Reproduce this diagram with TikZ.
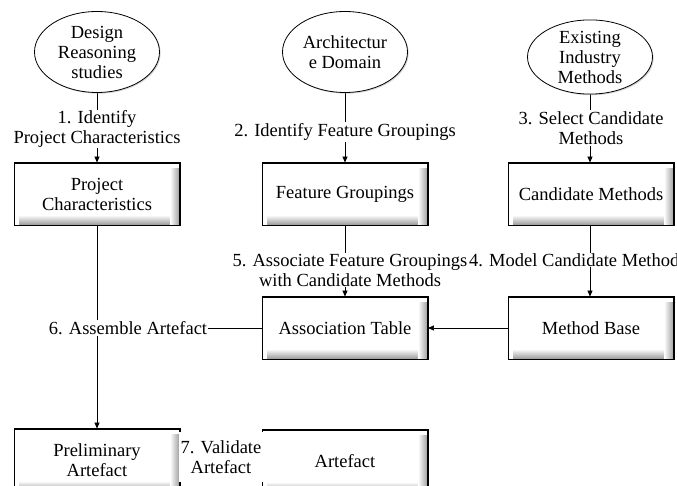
\documentclass[tikz,border=0pt]{standalone}
\usepackage{fontspec}
\setmainfont{Liberation Serif}
\usetikzlibrary{arrows.meta,shapes.geometric,shadows,backgrounds}

% soft inner shadow along the right and bottom edges of a box, then its border again
\newcommand\insetshade[1]{%
  \foreach \i in {1,...,9}{%
    \pgfmathsetmacro\shadeop{0.36*(10-\i)/9}
    \draw[draw=black, opacity=\shadeop, line width=1pt]
      ([xshift=-\i pt+0.1pt, yshift=-5pt]#1.north east) -- ([xshift=-\i pt+0.1pt]#1.south east);
    \draw[draw=black, opacity=\shadeop, line width=1pt]
      ([xshift=5pt, yshift=\i pt-0.1pt]#1.south west) -- ([xshift=-10pt, yshift=\i pt-0.1pt]#1.south east);
  }%
  \draw[line width=0.9pt] (#1.north west) rectangle (#1.south east);
}

\begin{document}
\begin{tikzpicture}[x=1pt,y=-1pt,
  every node/.style={font=\fontsize{18.5}{20}\selectfont, align=center},
  source/.style={ellipse, draw, line width=0.8pt, fill=white,
    minimum width=125pt, minimum height=81pt, inner sep=0pt,
    drop shadow={shadow xshift=1.2pt, shadow yshift=-1.2pt, fill=gray!70, opacity=0.45}},
  stagebox/.style={rectangle, draw, line width=0.9pt, fill=white,
    minimum width=165pt, minimum height=62pt, inner sep=0pt},
  steplabel/.style={fill=white, inner sep=1pt},
  arr/.style={-{Triangle[length=6pt,width=5pt]}, line width=0.7pt},
  link/.style={line width=0.7pt}]

\useasboundingbox (0,0) rectangle (677,486);
\clip (0,0) rectangle (677,486);

% sources
\node[source] (E1) at (97,52) {Design\\Reasoning\\studies};
\node[source] (E2) at (345,52) {Architectur\\e Domain};
\node[source, minimum height=72pt] (E3) at (590,57) {Existing\\Industry\\Methods};

% intermediate and final products
\node[stagebox] (B1) at (97,194) {Project\\Characteristics};
\node[stagebox] (B2) at (345,194) {Feature Groupings};
\node[stagebox] (B3) at (591,194) {Candidate Methods};
\node[stagebox] (B4) at (345,328) {Association Table};
\node[stagebox] (B5) at (591,328) {Method Base};
\node[stagebox] (B6) at (97,460) {Preliminary\\Artefact};
\node[stagebox] (B7) at (345,461) {Artefact};

\foreach \b in {B1,B2,B3,B4,B5,B6,B7}{\insetshade{\b}}

% connectors, kept under the step labels
\begin{pgfonlayer}{background}
\draw[arr] (E1.south) -- (B1.north);
\draw[arr] (E2.south) -- (B2.north);
\draw[arr] (E3.south) -- (E3.south |- B3.north);
\draw[arr] (B2.south) -- (B4.north);
\draw[arr] (B3.south -| E3.south) -- (E3.south |- B5.north);
\draw[arr] (B5.west) -- (B4.east);
\draw[arr] (B1.south) -- (B6.north);
\draw[link] (B6.east) -- (B7.west);
\end{pgfonlayer}

% step labels
\node[steplabel] (L1) at (97,129) {1. Identify\\Project Characteristics};
\node[steplabel] (L2) at (345,132) {2. Identify Feature Groupings};
\node[steplabel] (L3) at (591,128) {3. Select Candidate\\Methods};
\node[steplabel] (L5) at (350,270) {5. Associate Feature Groupings\\with Candidate Methods};
\node[steplabel, anchor=west, inner sep=0pt] (L4) at (469,260) {4. Model Candidate Methods};
\node[steplabel] (L6) at (128,328) {6. Assemble Artefact};
\node[steplabel, minimum width=84pt, minimum height=50pt, inner sep=0pt] (L7) at (221,457) {7. Validate\\Artefact};

\draw[link] (L6.east) -- (L6.east -| B4.west);
\end{tikzpicture}
\end{document}
